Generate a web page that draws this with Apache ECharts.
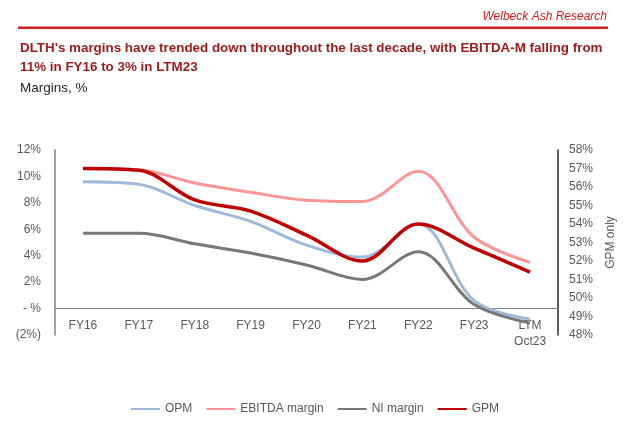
<!DOCTYPE html>
<html>
<head>
<meta charset="utf-8">
<script src="https://cdn.jsdelivr.net/npm/echarts@6/dist/echarts.min.js"></script>
<style>
html,body{margin:0;padding:0;background:#fff;}
#chart{width:640px;height:421px;}
</style>
</head>
<body>
<div id="chart"></div>
<script>
var categories = ['FY16','FY17','FY18','FY19','FY20','FY21','FY22','FY23','LTM\nOct23'];
var opm = [9.6, 9.4, 7.8, 6.6, 4.8, 3.9, 6.4, 0.6, -0.8];
var ebitdaMargin = [10.6, 10.5, 9.5, 8.8, 8.2, 8.1, 10.4, 5.4, 3.5];
var niMargin = [5.7, 5.7, 4.9, 4.2, 3.3, 2.2, 4.3, 0.3, -1.1];
var gpm = [57.0, 56.9, 55.3, 54.7, 53.4, 52.0, 54.0, 52.7, 51.4];
var leftTicks = [-2, 0, 2, 4, 6, 8, 10, 12];
var rightTicks = [48, 49, 50, 51, 52, 53, 54, 55, 56, 57, 58];

var chart = echarts.init(document.getElementById('chart'), null, {renderer: 'canvas'});
var labelFont = {color: '#595959', fontFamily: 'Liberation Sans, Arial, sans-serif', fontSize: 12};
var gridTop = 150, gridBottom = 86, plotH = 421 - gridTop - gridBottom;

chart.setOption({
  animation: false,
  backgroundColor: '#ffffff',
  graphic: [
    {type: 'text', right: 33, top: 11, style: {text: 'Welbeck Ash Research', fill: '#d01f1f', font: 'italic 12px "Liberation Sans", Arial, sans-serif'}},
    {type: 'rect', shape: {x: 18, y: 26.5, width: 590, height: 2.5}, style: {fill: '#d01f1f'}},
    {type: 'text', left: 20, top: 39, style: {text: "DLTH's margins have trended down throughout the last decade, with EBITDA-M falling from\n11% in FY16 to 3% in LTM23", fill: '#9b1b1b', font: 'bold 13.4px "Liberation Sans", Arial, sans-serif', lineHeight: 19}},
    {type: 'text', left: 20, top: 81, style: {text: 'Margins, %', fill: '#262626', font: '13.5px "Liberation Sans", Arial, sans-serif'}}
  ],
  legend: {
    left: 126, top: 398,
    itemWidth: 29, itemHeight: 10, itemGap: 14,
    icon: 'path://M0,4 L29,4 L29,6 L0,6 Z',
    textStyle: {color: '#595959', fontFamily: 'Liberation Sans, Arial, sans-serif', fontSize: 12},
    data: ['OPM', 'EBITDA margin', 'NI margin', 'GPM']
  },
  grid: {left: 55, right: 82, top: gridTop, bottom: gridBottom, containLabel: false},
  xAxis: {
    type: 'category',
    data: categories,
    boundaryGap: true,
    offset: -plotH * 2 / 14,
    axisLine: {onZero: false, lineStyle: {color: '#808080', width: 1}},
    axisTick: {show: false},
    axisLabel: Object.assign({margin: 9, lineHeight: 16, interval: 0}, labelFont)
  },
  yAxis: [
    {
      type: 'value', min: -2, max: 12, interval: 2, position: 'left',
      axisLine: {show: true, lineStyle: {color: '#808080', width: 1.5}},
      axisTick: {show: false},
      splitLine: {show: false},
      axisLabel: Object.assign({margin: 14, formatter: function (v) {
        if (leftTicks.indexOf(v) < 0) return '';
        if (v === 0) return '- %';
        if (v < 0) return '(' + (-v) + '%)';
        return v + '%';
      }}, labelFont)
    },
    {
      type: 'value', min: 48, max: 58, interval: 1, position: 'right',
      name: 'GPM only', nameLocation: 'middle', nameRotate: 90, nameGap: 47,
      nameTextStyle: labelFont,
      axisLine: {show: true, lineStyle: {color: '#262626', width: 1.5}},
      axisTick: {show: false},
      splitLine: {show: false},
      axisLabel: Object.assign({margin: 11, formatter: function (v) {
        return rightTicks.indexOf(v) < 0 ? '' : v + '%';
      }}, labelFont)
    }
  ],
  series: [
    {name: 'OPM', type: 'line', yAxisIndex: 0, data: opm, smooth: 0.35, symbol: 'none', z: 2,
      lineStyle: {color: '#9fbad8', width: 3}, itemStyle: {color: '#9fbad8'}},
    {name: 'EBITDA margin', type: 'line', yAxisIndex: 0, data: ebitdaMargin, smooth: 0.35, symbol: 'none', z: 2,
      lineStyle: {color: '#ff9494', width: 3}, itemStyle: {color: '#ff9494'}},
    {name: 'NI margin', type: 'line', yAxisIndex: 0, data: niMargin, smooth: 0.35, symbol: 'none', z: 2,
      lineStyle: {color: '#787878', width: 3}, itemStyle: {color: '#787878'}},
    {name: 'GPM', type: 'line', yAxisIndex: 1, data: gpm, smooth: 0.35, symbol: 'none', z: 3,
      lineStyle: {color: '#c00000', width: 3.5}, itemStyle: {color: '#c00000'}}
  ]
});
</script>
</body>
</html>
